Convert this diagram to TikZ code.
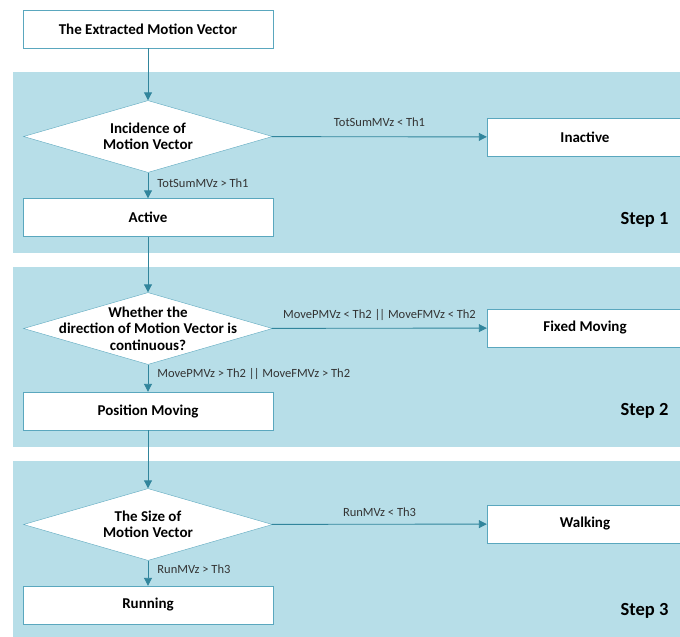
\documentclass[tikz,border=0pt]{standalone}
\usepackage{fontspec}
\setmainfont{Carlito}
\usepackage{tikz}
\usetikzlibrary{arrows.meta,positioning,shapes.geometric}
\definecolor{panelblue}{HTML}{B7DEE8}
\definecolor{flowteal}{HTML}{31859C}
\definecolor{edgeteal}{HTML}{5AA7BE}
\newcommand{\orbars}{|\kern-0.8pt|}
\tikzset{
  proc/.style={draw=edgeteal, fill=white, minimum width=250pt, minimum height=38pt, inner sep=2pt, font=\fontsize{15}{17}\selectfont\bfseries},
  decision/.style={draw=edgeteal, fill=white, diamond, minimum width=249pt, minimum height=72pt, inner sep=0pt},
  dtext/.style={align=center, font=\fontsize{15}{16.5}\selectfont\bfseries},
  cond/.style={font=\fontsize{12.5}{14}\selectfont, text=black!80, inner sep=1pt},
  steplbl/.style={font=\fontsize{18.5}{20}\selectfont\bfseries, anchor=east},
  panel/.style={fill=panelblue},
  flow/.style={draw=flowteal, line width=0.9pt, -{Triangle[length=8pt,width=8pt]}}
}
\begin{document}
\begin{tikzpicture}[x=1pt, y=-1pt]
\useasboundingbox (0,0) rectangle (680,637);
\clip (0,0) rectangle (680,637);
% background panels
\fill[panel] (13,72) rectangle (680,253);
\fill[panel] (13,267) rectangle (680,447);
\fill[panel] (13,461) rectangle (680,637);

\node[proc] (src) at (148,29) {The Extracted Motion Vector};

% step 1
\node[decision, label={[dtext]center:Incidence of\\Motion Vector}] (inc) at (148,136.5) {};
\node[proc, minimum width=196pt] (inact) at (585,137) {Inactive};
\node[proc] (act) at (148,217.5) {Active};
\node[steplbl] (s1) at (672,220) {Step 1};

% step 2
\node[decision, label={[dtext]center:Whether the\\direction of Motion Vector is\\continuous?}] (dir) at (148,328.5) {};
\node[proc, minimum width=196pt] (fixed) at (585,328) {Fixed Moving};
\node[proc] (posm) at (148,411) {Position Moving};
\node[steplbl] (s2) at (672,411) {Step 2};

% step 3
\node[decision, label={[dtext]center:The Size of\\Motion Vector}] (size) at (148,524.5) {};
\node[proc, minimum width=196pt] (walk) at (585,524) {Walking};
\node[proc] (run) at (148,605) {Running};
\node[steplbl] (s3) at (672,611) {Step 3};

\draw[flow] (src) -- (inc);
\draw[flow] (inc) -- node[cond, above=9pt] {TotSumMVz < Th1} (inact);
\draw[flow] (inc) -- node[cond, right=8pt, pos=0.4] {TotSumMVz > Th1} (act);
\draw[flow] (act) -- (dir);
\draw[flow] (dir) -- node[cond, above=6pt] {MovePMVz < Th2 \orbars{} MoveFMVz < Th2} (fixed);
\draw[flow] (dir) -- node[cond, right=8pt, pos=0.35] {MovePMVz > Th2 \orbars{} MoveFMVz > Th2} (posm);
\draw[flow] (posm) -- (size);
\draw[flow] (size) -- node[cond, above=6pt] {RunMVz < Th3} (walk);
\draw[flow] (size) -- node[cond, right=8pt, pos=0.35] {RunMVz > Th3} (run);
\end{tikzpicture}
\end{document}
